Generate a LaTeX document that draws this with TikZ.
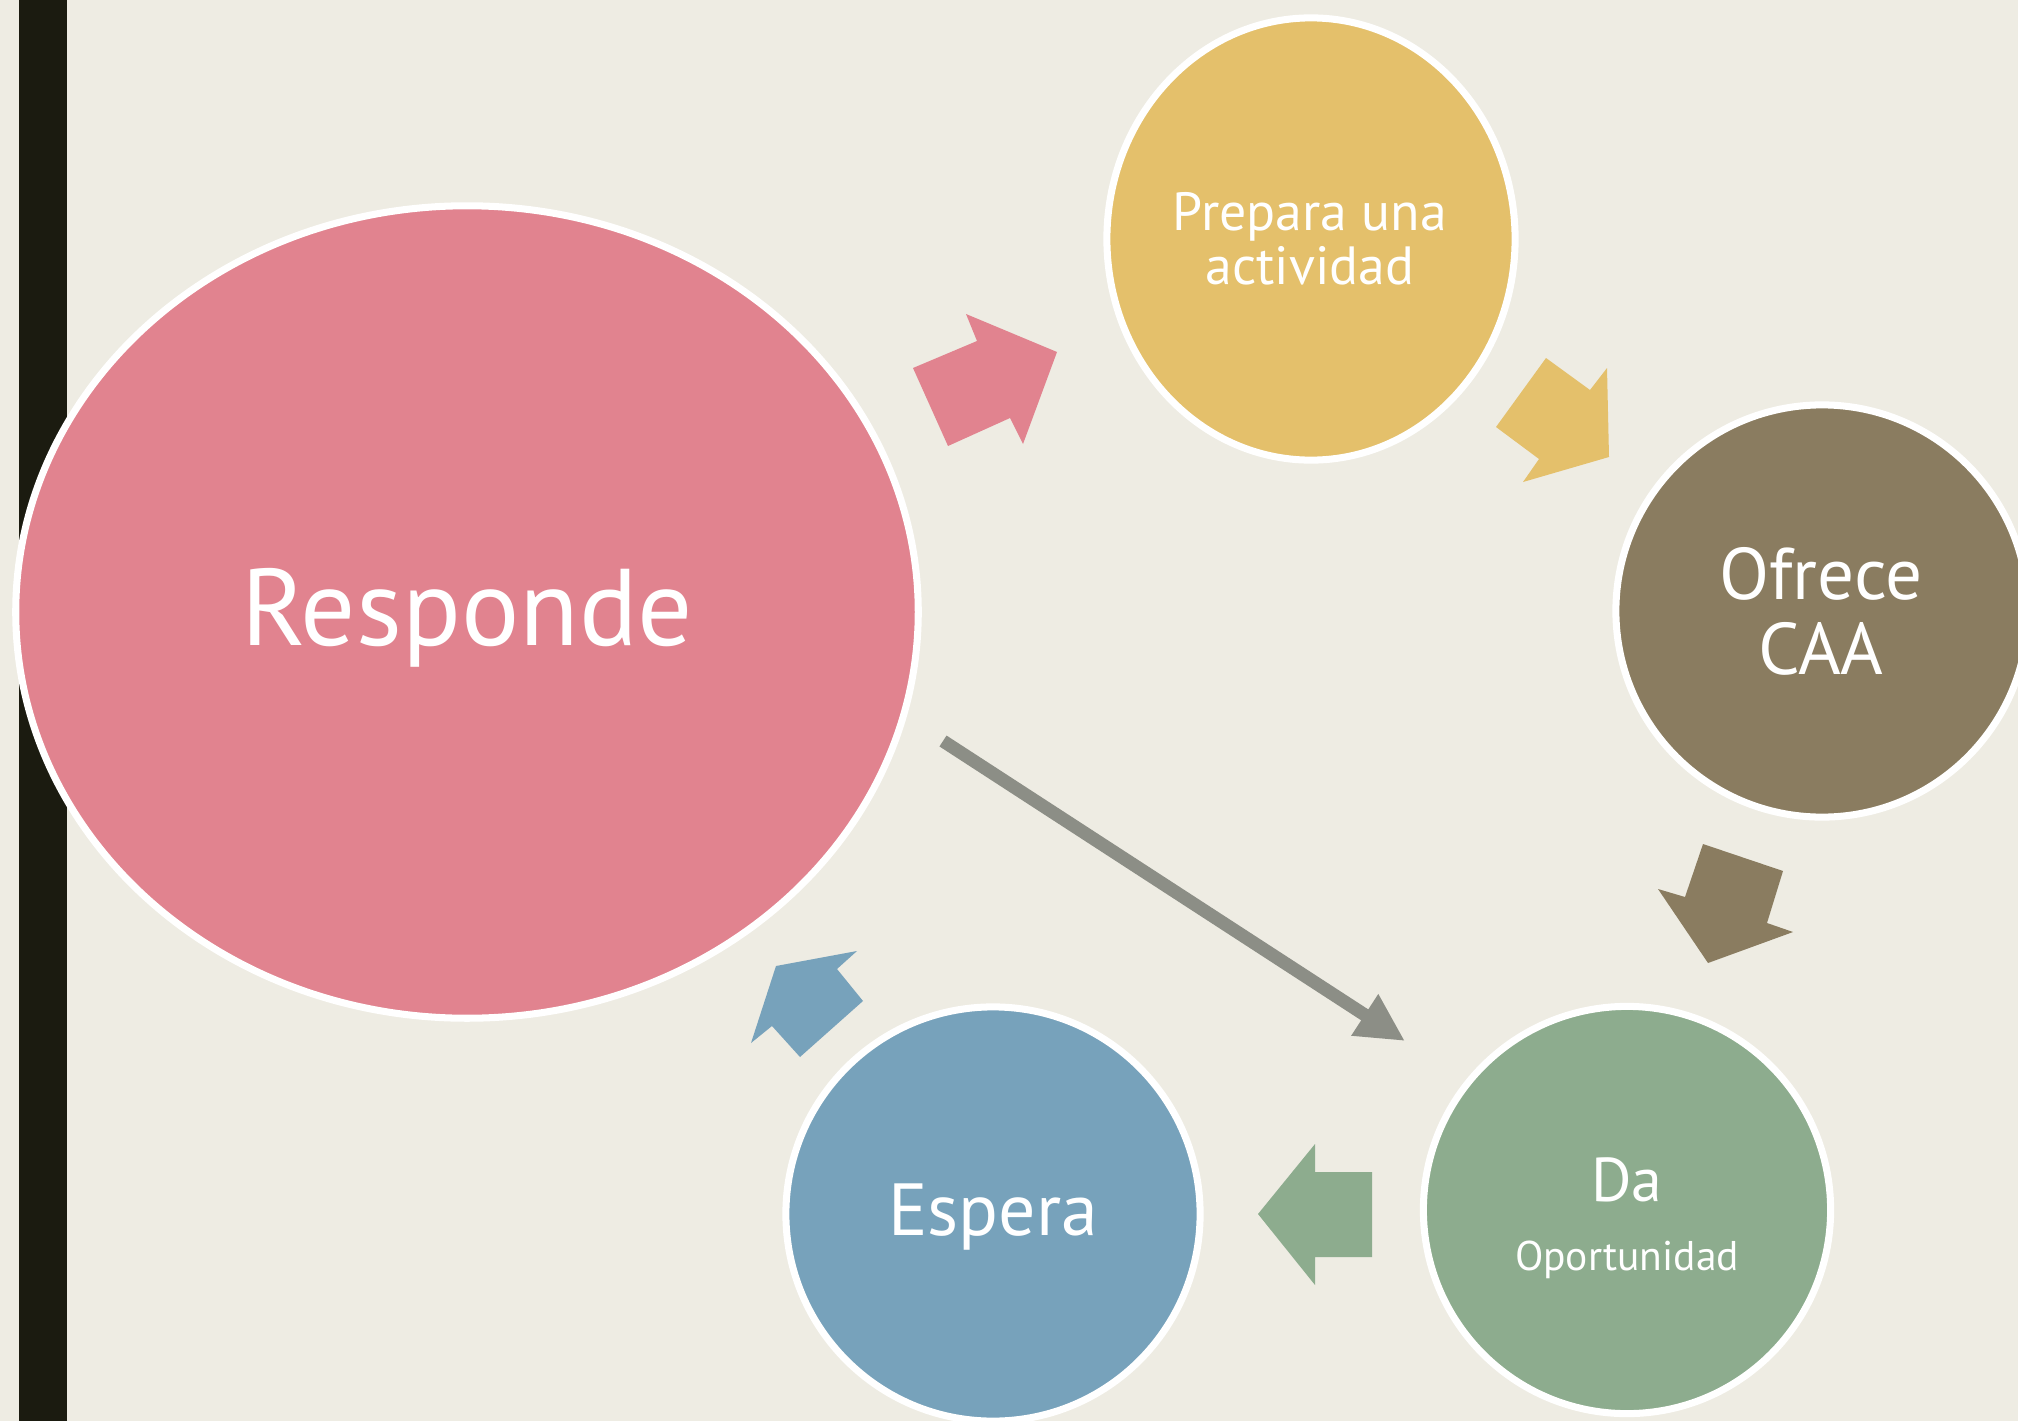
\documentclass[tikz,border=0pt]{standalone}
\usepackage{fontspec}
\setmainfont{PT Sans}
\usetikzlibrary{shapes.geometric,arrows.meta}
\definecolor{bg}{HTML}{EEECE3}
\definecolor{bar}{HTML}{1B1B10}
\definecolor{cpink}{HTML}{E1838F}
\definecolor{cyellow}{HTML}{E4C06B}
\definecolor{cbrown}{HTML}{8A7C60}
\definecolor{cgreen}{HTML}{8DAC8E}
\definecolor{cblue}{HTML}{77A2BB}
\definecolor{cgray}{HTML}{8C8E86}
\tikzset{
  bubble/.style={ellipse, draw=white, line width=2pt, inner sep=0pt, outer sep=0pt, text=white, align=center},
  label/.style={text=white, align=center, inner sep=0pt},
}
\begin{document}
\begin{tikzpicture}[x=0.01cm,y=-0.01cm]
\useasboundingbox (0,0) rectangle (2018,1421);
\fill[bg] (0,0) rectangle (2018,1421);
\fill[bar] (19,0) rectangle (67,1421);

\node[bubble, fill=cpink, minimum width=9.02cm, minimum height=8.12cm] (resp) at (467,612) {};
\node[label, font=\fontsize{31}{32}\selectfont] (resptxt) at (467,618) {Responde};
\node[bubble, fill=cyellow, minimum width=4.08cm, minimum height=4.42cm] (prep) at (1311,239) {};
\node[label, font=\fontsize{15.3}{15.4}\selectfont] (preptxt) at (1310,239) {Prepara una\\actividad};
\node[bubble, fill=cbrown, minimum width=4.12cm, minimum height=4.12cm] (ofr) at (1822,611) {};
\node[label, font=\fontsize{20.8}{21.3}\selectfont] (ofrtxt) at (1821,611) {Ofrece\\CAA};
\node[bubble, fill=cgreen, minimum width=4.07cm, minimum height=4.07cm] (da) at (1627,1210) {};
\node[label, font=\fontsize{17.6}{18}\selectfont] (datxt) at (1627,1180) {Da};
\node[label, font=\fontsize{11.8}{12}\selectfont] (optxt) at (1627,1260) {Oportunidad};
\node[bubble, fill=cblue, minimum width=4.14cm, minimum height=4.14cm] (esp) at (993,1214) {};
\node[label, font=\fontsize{21}{21}\selectfont] (esptxt) at (993,1217) {Espera};

% block arrows
\fill[cpink] (913,368) -- (977,341) -- (966,314) -- (1057,352) -- (1023,444) -- (1010,418) -- (948,446) -- cycle;
\fill[cyellow] (1546,358) -- (1590,390) -- (1607,368) -- (1609,457) -- (1523,482) -- (1539,459) -- (1496,427) -- cycle;
\fill[cbrown] (1703,844) -- (1783,871) -- (1767,923) -- (1793,932) -- (1708,963) -- (1658,889) -- (1685,897) -- cycle;
\fill[cgreen] (1372,1172) -- (1315,1172) -- (1315,1144) -- (1258,1214) -- (1315,1285) -- (1315,1257) -- (1372,1257) -- cycle;
\fill[cblue] (863,1001) -- (837,969) -- (857,951) -- (776,966) -- (751,1043) -- (772,1026) -- (800,1057) -- cycle;

% gray connector
\coordinate (gs) at (943,741);
\coordinate (ge) at (1405,1041);
\draw[cgray, line width=3.7pt, -{Triangle[length=0.48cm,width=0.46cm]}] (gs) -- (ge);
\end{tikzpicture}
\end{document}
